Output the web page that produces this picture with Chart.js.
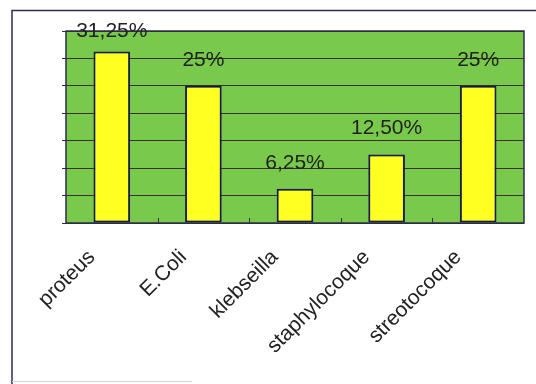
<!DOCTYPE html>
<html>
<head>
<meta charset="utf-8">
<script src="https://cdn.jsdelivr.net/npm/chart.js@4/dist/chart.umd.min.js"></script>
<style>
  html, body { margin: 0; padding: 0; background: #fff; }
  #wrap { width: 536px; height: 384px; position: relative; }
</style>
</head>
<body>
<div id="wrap"><canvas id="barChart" width="536" height="384"></canvas></div>
<script>
// bacteria share, in percent
var categories = ["proteus", "E.Coli", "klebseilla", "staphylocoque", "streotocoque"];
var values = [31.25, 25, 6.25, 12.5, 25];
var valueLabels = ["31,25%", "25%", "6,25%", "12,50%", "25%"];
var yMin = 0;
var yMax = 35;
var yStep = 5;

// green plot background, frame and inner ticks
var plotBackground = {
  id: 'plotBackground',
  beforeDraw: function(chart) {
    var ctx = chart.ctx;
    var a = chart.chartArea;
    ctx.save();
    ctx.fillStyle = '#fff';
    ctx.fillRect(0, 0, chart.width, chart.height);
    ctx.fillStyle = '#78c94c';
    ctx.fillRect(a.left, a.top, a.right - a.left, a.bottom - a.top);
    // outer frame
    ctx.strokeStyle = '#2e2a55';
    ctx.lineWidth = 1.5;
    ctx.beginPath();
    ctx.moveTo(12, 384);
    ctx.lineTo(12, 10.5);
    ctx.lineTo(536, 10.5);
    ctx.stroke();
    ctx.strokeStyle = '#d4d4d4';
    ctx.lineWidth = 1;
    ctx.beginPath();
    ctx.moveTo(12, 381.5);
    ctx.lineTo(192, 381.5);
    ctx.stroke();
    ctx.restore();
  },
  afterDatasetsDraw: function(chart) {
    var ctx = chart.ctx;
    var a = chart.chartArea;
    var x = chart.scales.x;
    ctx.save();
    // plot border
    ctx.strokeStyle = '#2f2d4a';
    ctx.lineWidth = 1.5;
    ctx.strokeRect(a.left, a.top, a.right - a.left, a.bottom - a.top);
    // category boundary ticks pointing inward
    ctx.lineWidth = 1;
    ctx.strokeStyle = '#333';
    for (var i = 1; i < categories.length; i++) {
      var px = (x.getPixelForValue(i - 1) + x.getPixelForValue(i)) / 2;
      ctx.beginPath();
      ctx.moveTo(Math.round(px) + 0.5, a.bottom);
      ctx.lineTo(Math.round(px) + 0.5, a.bottom - 5);
      ctx.stroke();
    }
    // value labels
    var meta = chart.getDatasetMeta(0);
    ctx.fillStyle = '#222';
    ctx.font = '21px "Liberation Sans", Arial, sans-serif';
    ctx.textAlign = 'center';
    ctx.textBaseline = 'alphabetic';
    meta.data.forEach(function(bar, idx) {
      var ty = Math.max(bar.y - 20, a.top + 6);
      ctx.fillText(valueLabels[idx], bar.x, ty);
    });
    ctx.restore();
  }
};

var ctx = document.getElementById("barChart");
var barChart = new Chart(ctx, {
  type: 'bar',
  data: {
    labels: categories,
    datasets: [{
      data: values,
      backgroundColor: '#ffff22',
      borderColor: '#1c1850',
      borderWidth: 2,
      borderSkipped: false,
      barPercentage: 0.4,
      categoryPercentage: 1
    }]
  },
  options: {
    responsive: false,
    animation: false,
    layout: { padding: { left: 0, right: 12, top: 31, bottom: 0 } },
    plugins: {
      legend: { display: false },
      tooltip: { enabled: false }
    },
    scales: {
      x: {
        grid: { display: false },
        border: { display: false },
        ticks: {
          color: '#222',
          font: { family: '"Liberation Sans", Arial, sans-serif', size: 21 },
          minRotation: 45,
          maxRotation: 45,
          labelOffset: -20,
          padding: 14
        },
        afterFit: function(scale) { scale.height = 161; }
      },
      y: {
        min: yMin,
        max: yMax,
        ticks: { display: false, stepSize: yStep },
        grid: { color: '#3a3028', lineWidth: 1, tickLength: 4, drawTicks: true },
        border: { display: false },
        afterFit: function(scale) { scale.width = 66; }
      }
    }
  },
  plugins: [plotBackground]
});
</script>
</body>
</html>
